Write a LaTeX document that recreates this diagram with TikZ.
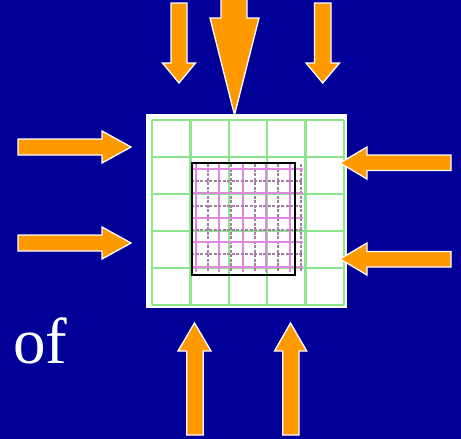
\documentclass[tikz,border=0pt]{standalone}
\usepackage{fontspec}
\setmainfont{Liberation Serif}
\definecolor{bgblue}{RGB}{0,0,153}
\definecolor{arrorange}{RGB}{255,153,0}
\definecolor{gridgreen}{RGB}{140,230,140}
\definecolor{finemag}{RGB}{225,135,225}
\definecolor{finegray}{RGB}{165,125,165}
\tikzset{
  arrowshape/.style={fill=arrorange, draw=white, line width=1.3pt, line join=miter},
  coarse/.style={draw=gridgreen, line width=2.4pt},
  finea/.style={draw=finemag, line width=2pt},
  fineb/.style={draw=finegray, line width=2pt, dash pattern=on 3pt off 1.5pt},
}
\begin{document}
\begin{tikzpicture}[x=1pt,y=-1pt]
\fill[bgblue] (0,0) rectangle (461,439);
\useasboundingbox (0,0) rectangle (461,439);
% panel
\node[fill=white, draw=none, minimum width=201pt, minimum height=194pt, inner sep=0pt, anchor=north west] (panel) at (146,114) {};
% coarse green grid
\foreach \x in {152,190.4,228.8,267.2,305.6,344} {\draw[coarse] (\x,120) -- (\x,305);}
\foreach \y in {120,157,194,231,268,305} {\draw[coarse] (152,\y) -- (344,\y);}
% fine grid
\foreach \i in {0,...,9} {
  \pgfmathsetmacro{\xx}{196+11.7*\i}
  \ifodd\i \draw[fineb] (\xx,164) -- (\xx,272); \else \draw[finea] (\xx,164) -- (\xx,272); \fi
}
\foreach \i in {0,...,8} {
  \pgfmathsetmacro{\yy}{169+12.2*\i}
  \ifodd\i \draw[fineb] (191,\yy) -- (303,\yy); \else \draw[finea] (191,\yy) -- (303,\yy); \fi
}
% black square
\node[draw=black, line width=2.4pt, minimum width=103pt, minimum height=112pt, inner sep=0pt, anchor=north west] (sq) at (191,162) {};
% top arrows
\draw[arrowshape] (171,3) -- (187,3) -- (187,63) -- (195.5,63) -- (179,83) -- (162.5,63) -- (171,63) -- cycle;
\draw[arrowshape] (221,-3) -- (247,-3) -- (247,18) -- (259,18) -- (234.5,115) -- (210,18) -- (221,18) -- cycle;
\draw[arrowshape] (314.5,3) -- (331,3) -- (331,63) -- (339.5,63) -- (322.7,83) -- (306,63) -- (314.5,63) -- cycle;
% left arrows
\draw[arrowshape] (18,139) -- (102,139) -- (102,131) -- (131,147) -- (102,163) -- (102,155) -- (18,155) -- cycle;
\draw[arrowshape] (18,235) -- (102,235) -- (102,227) -- (131,243) -- (102,259) -- (102,251) -- (18,251) -- cycle;
% right arrows
\draw[arrowshape] (451,155) -- (367,155) -- (367,147) -- (340,163) -- (367,179) -- (367,170.5) -- (451,170.5) -- cycle;
\draw[arrowshape] (451,251.5) -- (367,251.5) -- (367,243) -- (340,259) -- (367,275) -- (367,267) -- (451,267) -- cycle;
% bottom arrows
\draw[arrowshape] (186.7,435) -- (186.7,351) -- (178,351) -- (194.5,323) -- (211,351) -- (203.3,351) -- (203.3,435) -- cycle;
\draw[arrowshape] (282.7,435) -- (282.7,351) -- (274.5,351) -- (290.5,323) -- (306.7,351) -- (299,351) -- (299,435) -- cycle;
% text
\node[anchor=base west, inner sep=0pt, text=white, font=\fontsize{65}{70}\selectfont] (of) at (13,363) {of};
\end{tikzpicture}
\end{document}
